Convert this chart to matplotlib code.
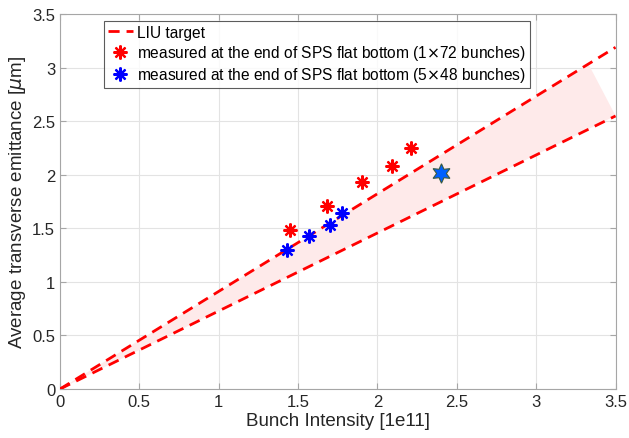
import matplotlib
matplotlib.use("Agg")
import matplotlib.pyplot as plt
import numpy as np

plt.rcParams['font.family'] = ['Liberation Sans', 'DejaVu Sans']

# LIU target band (emittance per unit intensity)
liu_hi = 0.911
liu_lo = 0.728
x_line = [0, 3.5]
band_x = [0, 3.33, 3.5]
band_y = [0, 3.03, 2.55]

# measured, 1x72 bunches
red_x = [1.45, 1.68, 1.90, 2.09, 2.21]
red_y = [1.48, 1.71, 1.93, 2.08, 2.25]
# measured, 5x48 bunches
blue_x = [1.43, 1.57, 1.70, 1.775]
blue_y = [1.30, 1.43, 1.53, 1.64]
# highlighted point
star_x = [2.40]
star_y = [2.015]

fig = plt.figure(figsize=(6.29, 4.39), dpi=100)
ax = fig.add_axes([0.0954, 0.1116, 0.9786 - 0.0954, 0.966 - 0.1116])

ax.fill(band_x, band_y, color='#feeaea', lw=0, zorder=1)
ax.plot(x_line, [liu_hi * v for v in x_line], '--', color='#ff0000', lw=2, dashes=(4, 2.5),
        label='LIU target', zorder=3)
ax.plot(x_line, [liu_lo * v for v in x_line], '--', color='#ff0000', lw=2, dashes=(4, 2.5), zorder=3)
ax.plot(red_x, red_y, ls='none', marker=(8, 2, 0), ms=10, mew=1.6, color='#ff0000',
        label='measured at the end of SPS flat bottom (1$\\times$72 bunches)', zorder=4)
ax.plot(blue_x, blue_y, ls='none', marker=(8, 2, 0), ms=10, mew=1.6, color='#0000ff',
        label='measured at the end of SPS flat bottom (5$\\times$48 bunches)', zorder=4)
ax.plot(star_x, star_y, ls='none', marker=(6, 1, 0), ms=14, mfc='#0060ff', mec='#3a5a40',
        mew=0.8, zorder=5)

ax.set_xlim(0, 3.5)
ax.set_ylim(0, 3.5)
ax.set_xticks(np.arange(0, 3.51, 0.5))
ax.set_yticks(np.arange(0, 3.51, 0.5))
ax.set_xticklabels(['0', '0.5', '1', '1.5', '2', '2.5', '3', '3.5'])
ax.set_yticklabels(['0', '0.5', '1', '1.5', '2', '2.5', '3', '3.5'])
ax.grid(True, color='#e3e3e3', lw=0.8)
ax.set_axisbelow(True)
for s in ax.spines.values():
    s.set_color('#a6a6a6')
ax.tick_params(direction='in', length=4, color='#a6a6a6', labelsize=12, labelcolor='#262626',
               top=True, right=True)
ax.set_xlabel('Bunch Intensity [1e11]', fontsize=13.5, color='#262626', labelpad=2)
ax.set_ylabel('Average transverse emittance [$\\mu$m]', fontsize=13.5, color='#262626', labelpad=3)

leg = ax.legend(loc='upper left', bbox_to_anchor=(0.079, 0.981), fontsize=11.2, frameon=True,
                fancybox=False, edgecolor='#333333', handlelength=1.6, handletextpad=0.3,
                borderpad=0.25, labelspacing=0.2, borderaxespad=0)
leg.get_frame().set_linewidth(0.8)

fig.savefig('out.png', dpi=100)
